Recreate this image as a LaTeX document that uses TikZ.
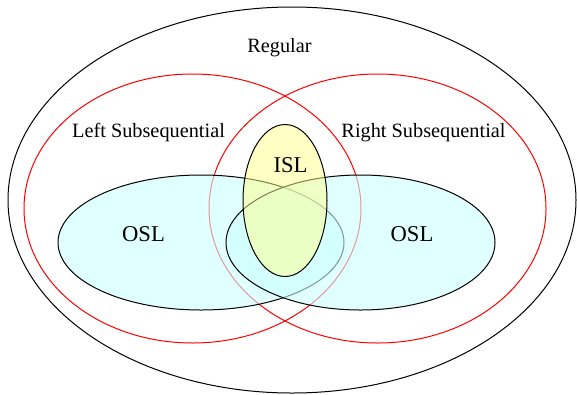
\documentclass[tikz,border=0pt]{standalone}
\usepackage{fontspec}
\setmainfont{Liberation Serif}
\definecolor{oslfill}{RGB}{203,255,255}
\definecolor{islfill}{RGB}{255,255,137}
\tikzset{
  setline/.style={line width=1pt},
  redset/.style={setline, draw=red},
  oslset/.style={setline, draw=black, fill=oslfill, fill opacity=0.6, draw opacity=1},
  islset/.style={setline, draw=black, fill=islfill, fill opacity=0.5, draw opacity=1},
  lbl/.style={inner sep=0pt, font=\fontsize{20.3}{24}\selectfont},
  biglbl/.style={inner sep=0pt, font=\fontsize{22.6}{27}\selectfont}
}
\begin{document}
\begin{tikzpicture}[x=1pt,y=-1pt]
\useasboundingbox (0,0) rectangle (577,394);
% Regular
\draw[setline] (292,200) ellipse [x radius=284pt, y radius=193pt];
% Left and Right Subsequential
\draw[redset] (192.5,208.5) ellipse [x radius=168.5pt, y radius=134.5pt];
\draw[redset] (377.5,208.5) ellipse [x radius=168.5pt, y radius=134.5pt];
% OSL
\draw[oslset] (201,242.5) ellipse [x radius=143pt, y radius=67.5pt];
\draw[oslset] (360.5,242.5) ellipse [x radius=134.5pt, y radius=67.5pt];
% ISL
\draw[islset] (285,200.5) ellipse [x radius=42pt, y radius=76pt];
% labels
\node[lbl] (regular) at (279.5,48) {Regular};
\node[lbl] (lsub) at (148.5,133) {Left Subsequential};
\node[lbl] (rsub) at (423.5,133) {Right Subsequential};
\node[biglbl] (isl) at (290.5,165) {ISL};
\node[biglbl] (osll) at (143.5,234.5) {OSL};
\node[biglbl] (oslr) at (412,234.5) {OSL};
\end{tikzpicture}
\end{document}
